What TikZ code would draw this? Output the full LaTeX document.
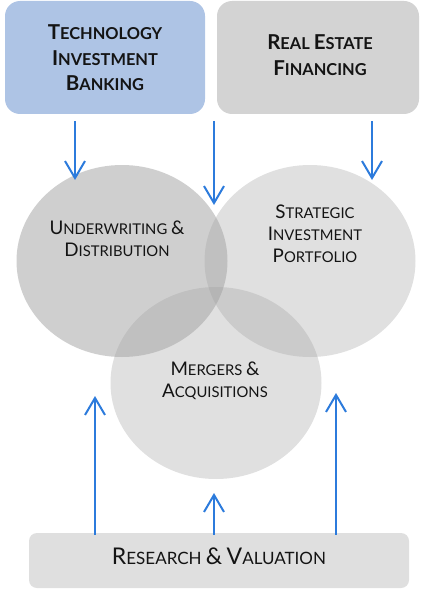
\documentclass[tikz,border=0pt]{standalone}
\usepackage{fontspec}
\setmainfont{Lato}
\usetikzlibrary{arrows.meta,shapes.geometric}
\definecolor{bluebox}{HTML}{AEC4E5}
\definecolor{greybox}{HTML}{D3D3D3}
\definecolor{lightbox}{HTML}{DFDFDF}
\definecolor{arrblue}{HTML}{2C7BDC}
\definecolor{circg}{HTML}{A0A0A0}
\definecolor{ink}{HTML}{141414}
\def\capsz{18}
\newcommand\Cp[1]{{\fontsize{\capsz}{\capsz}\selectfont #1}}
\tikzset{
  x=1pt, y=-1pt,
  topbox/.style={rounded corners=15pt, inner sep=0pt, minimum width=200pt, minimum height=113pt},
  toptext/.style={align=center, text=ink, inner sep=0pt,
    font={\def\capsz{20.5}\bfseries\fontsize{16.4}{25.5}\selectfont}},
  circ/.style={ellipse, inner sep=0pt, minimum width=211pt, minimum height=192pt, fill=circg},
  circtext/.style={align=center, text=ink, inner sep=0pt,
    font={\def\capsz{18.8}\fontsize{14.8}{22}\selectfont}},
  bottext/.style={align=center, text=ink, inner sep=0pt,
    font={\def\capsz{23}\fontsize{17}{22}\selectfont}},
  arr/.style={draw=arrblue, line width=2pt, -{Straight Barb[length=17pt,width=20pt]}},
}
\begin{document}
\begin{tikzpicture}
\useasboundingbox (0,0) rectangle (422,591);
% top boxes
\node[topbox, fill=bluebox] (tib) at (105,57.5) {};
\node[toptext] (tibt) at (105,58) {\Cp{T}ECHNOLOGY\\\Cp{I}NVESTMENT\\\Cp{B}ANKING};
\node[topbox, fill=greybox, minimum width=202pt] (ref) at (318,57.5) {};
\node[toptext] (reft) at (320,55) {\Cp{R}EAL \Cp{E}STATE\\\Cp{F}INANCING};
% circles
\node[circ, fill opacity=0.5] (uw) at (122,261) {};
\node[circ, fill opacity=0.33] (sip) at (310,261) {};
\node[circ, fill opacity=0.33] (ma) at (216,383) {};
\node[circtext] (uwt) at (117,239) {\Cp{U}NDERWRITING \Cp{\&}\\\Cp{D}ISTRIBUTION};
\node[circtext] (sipt) at (315,234) {\Cp{S}TRATEGIC\\\Cp{I}NVESTMENT\\\Cp{P}ORTFOLIO};
\node[circtext] (mat) at (215,381) {\Cp{M}ERGERS \Cp{\&}\\\Cp{A}CQUISITIONS};
% bottom box
\node[rounded corners=8pt, fill=lightbox, inner sep=0pt, minimum width=380pt, minimum height=55pt] (rv) at (219,560.5) {};
\node[bottext] (rvt) at (219,556) {\Cp{R}ESEARCH \Cp{\&} \Cp{V}ALUATION};
% down arrows
\coordinate (d1) at (75,180);
\coordinate (s2) at (214,121);
\coordinate (d2) at (214,205);
\coordinate (d3) at (372,180);
\draw[arr, shorten <=7pt] (tib.south -| d1) -- (d1);
\draw[arr] (s2) -- (d2);
\draw[arr, shorten <=7pt] (ref.south -| d3) -- (d3);
% up arrows
\coordinate (u1) at (95,396);
\coordinate (u2) at (214,493);
\coordinate (u3) at (336,393);
\draw[arr, shorten <=-2pt] (rv.north -| u1) -- (u1);
\draw[arr, shorten <=-2pt] (rv.north -| u2) -- (u2);
\draw[arr, shorten <=-2pt] (rv.north -| u3) -- (u3);
\end{tikzpicture}
\end{document}
